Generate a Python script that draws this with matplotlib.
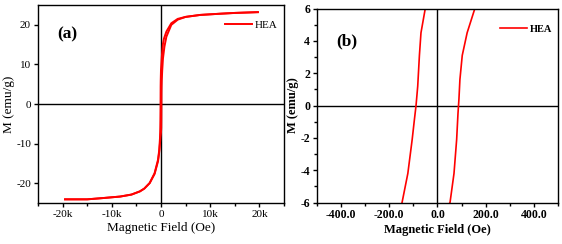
import numpy as np
import matplotlib
matplotlib.use("Agg")
import matplotlib.pyplot as plt
from matplotlib.ticker import MultipleLocator, FuncFormatter

# descending branch (+H -> -H)
h_down = [19700, 15000, 12000, 8000, 5000, 3400, 2100, 1100, 600, 400, 200, 100, 0,
          -50.7, -68.5, -75, -82, -89, -96, -105, -123, -147, -200, -350, -600,
          -1300, -2300, -3400, -4300, -6000, -8300, -12000, -15000, -19500]
m_down = [23.2, 23.0, 22.8, 22.5, 22.0, 21.5, 20.4, 18.3, 16.5, 15.2, 12.5, 10.5, 8.6,
          6.0, 4.5, 3.1, 1.2, 0.0, -0.9, -2.1, -4.2, -6.0, -8.5, -11.5, -14.0,
          -17.4, -19.9, -21.3, -22.0, -22.8, -23.3, -23.7, -24.0, -24.0]

# ascending branch (-H -> +H)
h_up = [-19500, -15000, -12000, -8300, -6000, -4300, -3400, -2300, -1300, -600,
        -350, -200, -100, 0, 52, 68.5, 79.5, 85, 89, 93, 102.7, 123, 155, 250,
        400, 700, 1100, 2100, 3400, 5000, 8000, 12000, 15000, 19700]
m_up = [-24.0, -24.0, -23.7, -23.3, -22.8, -22.0, -21.3, -19.9, -17.6, -14.4,
        -12.0, -9.8, -8.3, -7.2, -6.0, -4.2, -2.1, -0.5, 0.4, 1.6, 3.1, 4.5, 6.0, 8.5,
        11.5, 14.5, 17.0, 20.0, 21.3, 22.0, 22.5, 22.8, 23.0, 23.2]

plt.rcParams['font.family'] = ['Liberation Serif', 'DejaVu Serif']
plt.rcParams['axes.linewidth'] = 1.0
plt.rcParams['axes.unicode_minus'] = False

fig = plt.figure(figsize=(5.62, 2.44), dpi=100)

# ---- panel (a)
ax1 = fig.add_axes([0.0676, 0.1668, 0.4377, 0.8127])
ax1.axhline(0, color='k', lw=1.0)
ax1.axvline(0, color='k', lw=1.0)
ax1.plot(h_down, m_down, color='#ff0000', lw=1.4, label='HEA')
ax1.plot(h_up, m_up, color='#ff0000', lw=1.4)
ax1.set_xlim(-25000, 25000)
ax1.set_ylim(-25, 25)
ax1.xaxis.set_major_locator(MultipleLocator(10000))
ax1.xaxis.set_minor_locator(MultipleLocator(5000))
ax1.yaxis.set_major_locator(MultipleLocator(10))
ax1.xaxis.set_major_formatter(FuncFormatter(lambda v, p: '0' if v == 0 else '%dk' % (v / 1000)))
ax1.tick_params(which='major', direction='out', length=3, width=1, labelsize=8, pad=2)
ax1.tick_params(which='minor', direction='out', length=2, width=1)
ax1.tick_params(top=False, right=False)
ax1.set_xlabel('Magnetic Field (Oe)', fontsize=9.5, labelpad=2)
ax1.set_ylabel('M (emu/g)', fontsize=9.5, labelpad=1)
ax1.text(0.08, 0.85, '(a)', transform=ax1.transAxes, fontsize=12.5, fontweight='bold', va='center')
ax1.legend(loc='upper right', bbox_to_anchor=(1.0, 0.955), frameon=False, fontsize=8,
           handlelength=2.5, handletextpad=0.2, borderaxespad=0.2)

# ---- panel (b)
ax2 = fig.add_axes([0.564, 0.170, 0.4289, 0.795])
ax2.axhline(0, color='k', lw=1.0)
ax2.axvline(0, color='k', lw=1.0)
ax2.plot(h_down, m_down, color='#ff0000', lw=1.2, label='HEA')
ax2.plot(h_up, m_up, color='#ff0000', lw=1.2)
ax2.set_xlim(-500, 500)
ax2.set_ylim(-6, 6)
ax2.xaxis.set_major_locator(MultipleLocator(200))
ax2.xaxis.set_minor_locator(MultipleLocator(100))
ax2.yaxis.set_major_locator(MultipleLocator(2))
ax2.yaxis.set_minor_locator(MultipleLocator(1))
ax2.xaxis.set_major_formatter(FuncFormatter(lambda v, p: '%.1f' % v))
ax2.tick_params(which='major', direction='out', length=3, width=1, labelsize=8.5, pad=2)
ax2.tick_params(which='minor', direction='out', length=2, width=1)
for lab in ax2.get_xticklabels() + ax2.get_yticklabels():
    lab.set_fontweight('bold')
ax2.set_xlabel('Magnetic Field (Oe)', fontsize=9, fontweight='bold', labelpad=2)
ax2.set_ylabel('M (emu/g)', fontsize=9, fontweight='bold', labelpad=1)
ax2.text(0.08, 0.83, '(b)', transform=ax2.transAxes, fontsize=12.5, fontweight='bold', va='center')
leg = ax2.legend(loc='upper right', bbox_to_anchor=(1.0, 0.95), frameon=False,
                 prop={'size': 7.5, 'weight': 'bold'},
                 handlelength=2.6, handletextpad=0.2, borderaxespad=0.2)

fig.savefig('out.png', dpi=100)
